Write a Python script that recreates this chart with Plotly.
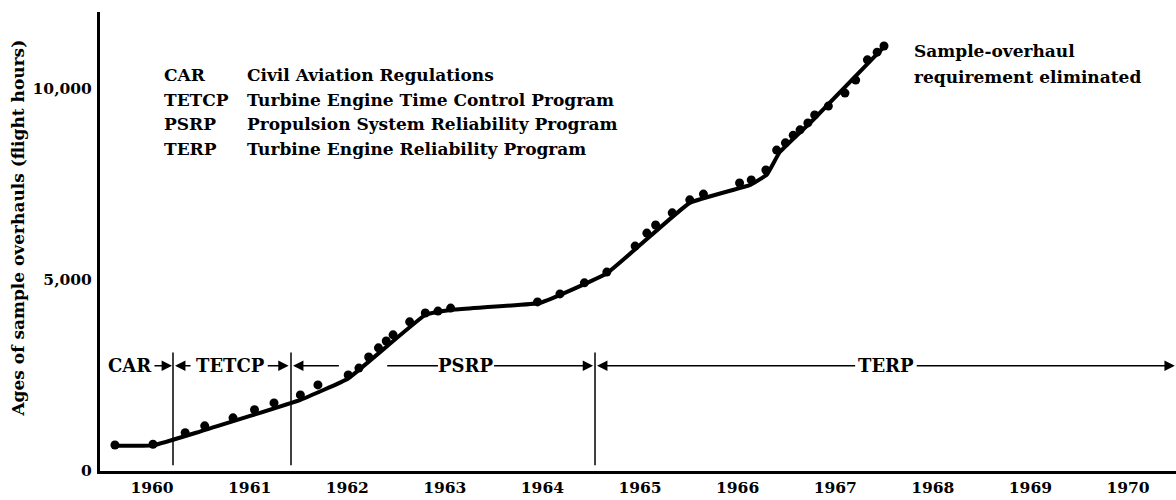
import plotly.graph_objects as go

# Age of sample overhauls, one dot per reporting period
years = [1959.62, 1960.01, 1960.34, 1960.54, 1960.83, 1961.05, 1961.25, 1961.52,
         1961.70, 1962.01, 1962.12, 1962.22, 1962.32, 1962.40, 1962.47, 1962.64,
         1962.80, 1962.93, 1963.06, 1963.95, 1964.18, 1964.43, 1964.66, 1964.95,
         1965.07, 1965.16, 1965.33, 1965.51, 1965.65, 1966.02, 1966.14, 1966.29,
         1966.40, 1966.49, 1966.57, 1966.64, 1966.72, 1966.79, 1966.93, 1967.10,
         1967.21, 1967.33, 1967.43, 1967.50]
ages = [680, 700, 1000, 1180, 1390, 1600, 1780, 1990,
        2250, 2510, 2690, 2980, 3220, 3400, 3560, 3900,
        4130, 4180, 4260, 4420, 4630, 4920, 5200, 5880,
        6220, 6430, 6750, 7090, 7240, 7530, 7610, 7870,
        8390, 8580, 8780, 8920, 9100, 9310, 9540, 9880,
        10220, 10750, 10950, 11110]

# Smoothed trend drawn through the dots
trend_years = [1959.62, 1960.01, 1960.49, 1961.52, 1962.01, 1962.80, 1963.10, 1963.98,
               1964.66, 1965.51, 1966.13, 1966.30, 1966.43, 1966.77, 1967.50]
trend_ages = [660, 670, 1030, 1860, 2420, 4080, 4220, 4400,
              5170, 7010, 7480, 7750, 8330, 9170, 11090]

# Program periods: boundaries and label positions
period_bounds = [1960.215, 1961.424, 1964.539]
period_names = ["CAR", "TETCP", "PSRP", "TERP"]
period_label_x = [1959.775, 1960.80, 1963.21, 1967.52]
period_row = 2750

legend_abbr = ["CAR", "TETCP", "PSRP", "TERP"]
legend_desc = ["Civil Aviation Regulations",
               "Turbine Engine Time Control Program",
               "Propulsion System Reliability Program",
               "Turbine Engine Reliability Program"]

y_ticks = [0, 5000, 10000]
y_tick_text = ["0", "5,000", "10,000"]
x_ticks = list(range(1960, 1971))

FONT = "DejaVu Serif"

fig = go.Figure()
fig.add_trace(go.Scatter(x=trend_years, y=trend_ages, mode="lines",
                         line=dict(color="black", width=4, shape="spline", smoothing=0.3),
                         hoverinfo="skip"))
fig.add_trace(go.Scatter(x=years, y=ages, mode="markers",
                         marker=dict(color="black", size=9)))

# vertical boundaries between programs
for b in period_bounds:
    fig.add_shape(type="line", x0=b, x1=b, y0=150, y1=3100, xref="x", yref="y",
                  line=dict(color="black", width=1.5))

# period labels
for name, lx in zip(period_names, period_label_x):
    fig.add_annotation(x=lx, y=period_row, text=name, showarrow=False,
                       font=dict(family=FONT, size=18, color="black", weight="bold"))

# arrows: (tail, head)
arrows = [(1960.01, 1960.205), (1960.41, 1960.236), (1961.17, 1961.40),
          (1961.93, 1961.445), (1963.49, 1964.52), (1967.22, 1964.56),
          (1967.82, 1970.48)]
for tail, head in arrows:
    fig.add_annotation(x=head, y=period_row, ax=tail, ay=period_row,
                       xref="x", yref="y", axref="x", ayref="y",
                       text="", showarrow=True, arrowhead=2, arrowsize=1.3,
                       arrowwidth=1.6, arrowcolor="black", standoff=0, startstandoff=0)
# plain lead-in segment before PSRP label
fig.add_shape(type="line", x0=1962.41, x1=1962.93, y0=period_row, y1=period_row,
              xref="x", yref="y", line=dict(color="black", width=1.6))

# key to abbreviations
key_y = [0.889, 0.834, 0.782, 0.728]
for ab, ds, ky in zip(legend_abbr, legend_desc, key_y):
    fig.add_annotation(x=0.0576, y=ky, xref="paper", yref="paper", text=ab,
                       showarrow=False, xanchor="left",
                       font=dict(family=FONT, size=17, color="black", weight="bold"))
    fig.add_annotation(x=0.1348, y=ky, xref="paper", yref="paper", text=ds,
                       showarrow=False, xanchor="left",
                       font=dict(family=FONT, size=17, color="black", weight="bold"))

# end-of-program note
for txt, ny in zip(["Sample-overhaul", "requirement eliminated"], [0.941, 0.885]):
    fig.add_annotation(x=0.7546, y=ny, xref="paper", yref="paper", text=txt,
                       showarrow=False, xanchor="left",
                       font=dict(family=FONT, size=17, color="black", weight="bold"))

# y-axis title
fig.add_annotation(x=-0.087, y=0.529, xref="paper", yref="paper",
                   text="Ages of sample overhauls (flight hours)", textangle=-90,
                   showarrow=False,
                   font=dict(family=FONT, size=17, color="black", weight="bold"))

fig.update_layout(
    width=1176, height=500,
    margin=dict(l=100, r=0, t=12, b=29),
    paper_bgcolor="white", plot_bgcolor="white",
    showlegend=False,
    font=dict(family=FONT, color="black"),
    xaxis=dict(range=[1959.467, 1970.492], tickvals=x_ticks,
               ticktext=[str(t) for t in x_ticks], showgrid=False, zeroline=False,
               showline=True, linecolor="black", linewidth=3, ticks="",
               tickfont=dict(family=FONT, size=15.5, color="black", weight="bold")),
    yaxis=dict(range=[0, 12000], tickvals=y_ticks, ticktext=y_tick_text,
               showgrid=False, zeroline=False, showline=True, linecolor="black",
               linewidth=3, ticks="", ticklabelstandoff=2,
               tickfont=dict(family=FONT, size=15.5, color="black", weight="bold")),
)

fig.write_html("out.html")
